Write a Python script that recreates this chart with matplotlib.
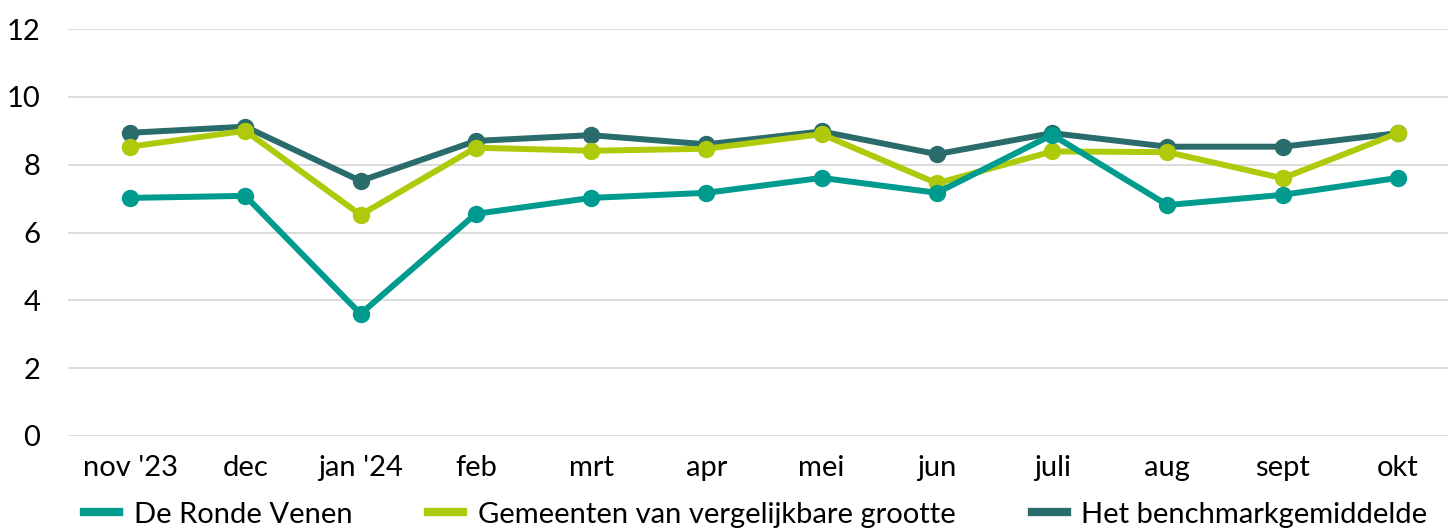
import matplotlib
matplotlib.use("Agg")
import matplotlib.pyplot as plt
from matplotlib.lines import Line2D

months = ["nov '23", "dec", "jan '24", "feb", "mrt", "apr", "mei", "jun", "juli", "aug", "sept", "okt"]
ronde_venen = [7.02, 7.08, 3.6, 6.55, 7.02, 7.17, 7.61, 7.17, 8.88, 6.81, 7.11, 7.61]
vergelijkbaar = [8.53, 9.0, 6.52, 8.5, 8.41, 8.47, 8.9, 7.45, 8.39, 8.37, 7.6, 8.93]
benchmark = [8.94, 9.12, 7.52, 8.7, 8.87, 8.6, 8.98, 8.31, 8.93, 8.53, 8.53, 8.93]
yticks = [0, 2, 4, 6, 8, 10, 12]

plt.rcParams['font.family'] = ['Lato', 'DejaVu Sans']

fig = plt.figure(figsize=(14.48, 5.3), dpi=100)
ax = fig.add_axes([68/1448, 1-436/530, (1448-68)/1448, (436-29)/530])

x = list(range(len(months)))
series = [
    ("De Ronde Venen", ronde_venen, "#009B8F", 5),
    ("Gemeenten van vergelijkbare grootte", vergelijkbaar, "#AFCA0B", 4),
    ("Het benchmarkgemiddelde", benchmark, "#2A6B6B", 3),
]
for label, vals, col, z in series:
    ax.plot(x, vals, color=col, lw=4.3, marker='o', ms=11.5, zorder=z,
            label=label, solid_capstyle='round')

ax.set_ylim(0, 12)
ax.set_xlim(-0.538, 11.434)
ax.set_yticks(yticks)
ax.set_xticks(x)
ax.set_xticklabels(months)
ax.grid(axis='y', color='#D9D9D9', lw=1.3)
ax.set_axisbelow(True)
for s in ax.spines.values():
    s.set_visible(False)
ax.tick_params(length=0, labelsize=21, colors='black')
ax.tick_params(axis='y', pad=20)
ax.tick_params(axis='x', pad=14)

leg_handles = [Line2D([0], [0], color=c, lw=6) for _, _, c, _ in series]
fig.legend(leg_handles, [s[0] for s in series], loc='lower center',
           bbox_to_anchor=(0.522, -0.045), ncol=3, frameon=False, fontsize=21,
           handlelength=1.2, handletextpad=0.5, columnspacing=2.6)

fig.savefig("out.png", dpi=100)
